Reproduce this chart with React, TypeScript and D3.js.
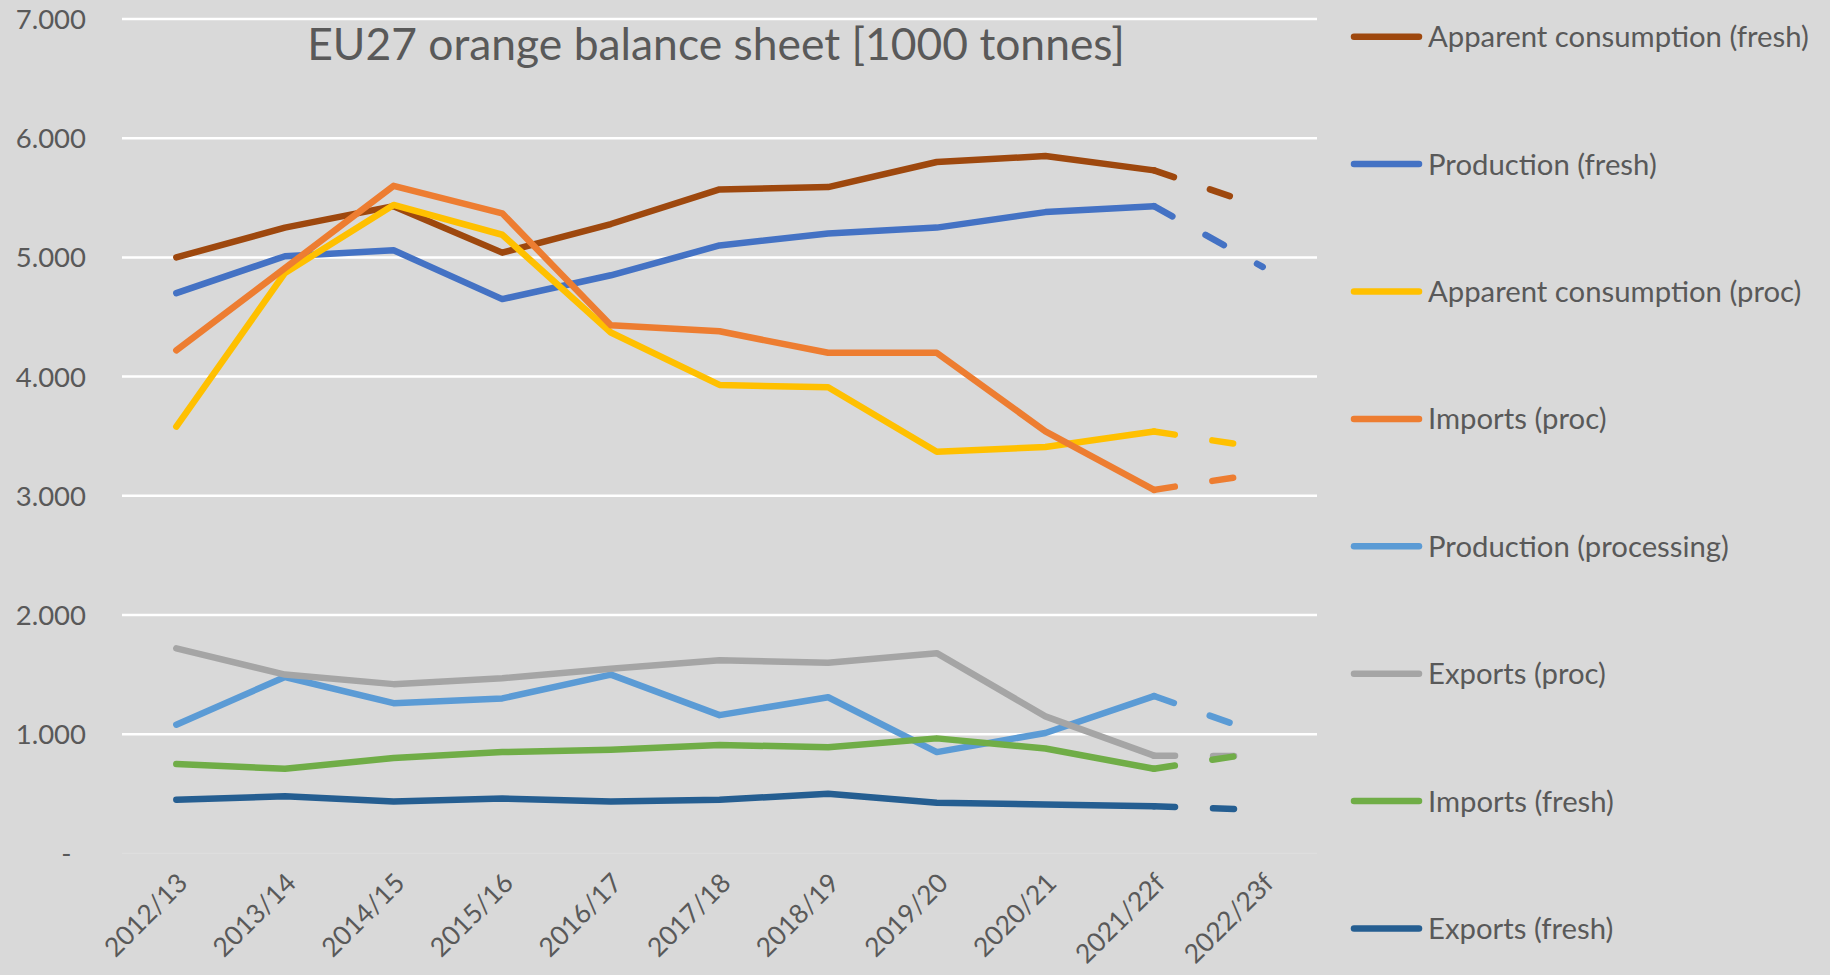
import React from 'react';
import * as d3 from 'd3';

const categories = ['2012/13', '2013/14', '2014/15', '2015/16', '2016/17', '2017/18', '2018/19', '2019/20', '2020/21', '2021/22f', '2022/23f'];

const appConsFresh = [5000, 5250, 5430, 5040, 5280, 5570, 5590, 5800, 5850, 5730, 5420];
const prodFresh = [4700, 5010, 5060, 4650, 4850, 5100, 5200, 5250, 5380, 5430, 4920];
const appConsProc = [3580, 4870, 5440, 5190, 4370, 3930, 3910, 3370, 3410, 3540, 3400];
const importsProc = [4220, 4910, 5600, 5370, 4430, 4380, 4200, 4200, 3540, 3050, 3190];
const prodProc = [1080, 1480, 1260, 1300, 1500, 1160, 1310, 850, 1010, 1320, 1000];
const exportsProc = [1720, 1500, 1420, 1470, 1550, 1620, 1600, 1680, 1150, 820, 815];
const importsFresh = [750, 710, 800, 850, 870, 910, 890, 965, 880, 710, 850];
const exportsFresh = [450, 480, 435, 460, 435, 450, 500, 425, 410, 395, 365];

const yTicks = [0, 1000, 2000, 3000, 4000, 5000, 6000, 7000];

// drawing order = legend order
const series = [
  { name: 'Apparent consumption (fresh)', values: appConsFresh, color: '#9E480E' },
  { name: 'Production (fresh)', values: prodFresh, color: '#4472C4' },
  { name: 'Apparent consumption (proc)', values: appConsProc, color: '#FFC000' },
  { name: 'Imports (proc)', values: importsProc, color: '#ED7D31' },
  { name: 'Production (processing)', values: prodProc, color: '#5B9BD5' },
  { name: 'Exports (proc)', values: exportsProc, color: '#A5A5A5' },
  { name: 'Imports (fresh)', values: importsFresh, color: '#70AD47' },
  { name: 'Exports (fresh)', values: exportsFresh, color: '#255E91' },
];

const W = 1830;
const H = 975;
const plot = { left: 122, right: 1317, top: 19, bottom: 853.4 };
const font = 'Lato, "Open Sans", sans-serif';
const textColor = '#595959';

const locale = d3.formatLocale({ decimal: ',', thousands: '.', grouping: [3], currency: ['', ''] });
const fmt = locale.format(',');

export default function App() {
  const x = d3.scalePoint<string>().domain(categories).range([plot.left, plot.right]).padding(0.5);
  const y = d3.scaleLinear().domain([0, 7000]).range([plot.bottom, plot.top]);

  const line = d3
    .line<{ c: string; v: number }>()
    .x((d) => x(d.c) as number)
    .y((d) => y(d.v));

  const lw = 6.5;

  return (
    <svg width={W} height={H} style={{ position: 'absolute', left: 0, top: 0 }} fontFamily={font}>
      <rect x={0} y={0} width={W} height={H} fill="#D9D9D9" />

      {/* gridlines */}
      {yTicks.filter((t) => t > 0).map((t) => (
        <line key={t} x1={plot.left} x2={plot.right} y1={y(t)} y2={y(t)} stroke="#FFFFFF" strokeWidth={2.5} />
      ))}
      <line x1={plot.left} x2={plot.right} y1={y(0)} y2={y(0)} stroke="#DFDFDF" strokeWidth={1} />

      {/* y labels */}
      {yTicks.map((t) => (
        <text
          key={t}
          x={t === 0 ? 71.5 : 86}
          y={y(t)}
          dy="0.36em"
          textAnchor="end"
          fontSize={27.5}
          fill={textColor}
        >
          {t === 0 ? '-' : fmt(t)}
        </text>
      ))}

      {/* x labels */}
      {categories.map((c) => (
        <text
          key={c}
          transform={`translate(${(x(c) as number) + 6},${878}) rotate(-45)`}
          dy="0.36em"
          textAnchor="end"
          fontSize={26.5}
          fill={textColor}
        >
          {c}
        </text>
      ))}

      {/* title */}
      <text x={716} y={60} textAnchor="middle" fontSize={44.4} fill={textColor}>
        EU27 orange balance sheet [1000 tonnes]
      </text>

      {/* series */}
      {series.map((s) => {
        const pts = s.values.map((v, i) => ({ c: categories[i], v }));
        const n = pts.length;
        return (
          <g key={s.name} fill="none" stroke={s.color} strokeWidth={lw} strokeLinecap="round" strokeLinejoin="round">
            <path d={line(pts.slice(0, n - 1)) || ''} />
            <path d={line(pts.slice(n - 2)) || ''} strokeDasharray="21,38" />
          </g>
        );
      })}

      {/* legend */}
      {series.map((s, i) => {
        const ly = 36.7 + 127.4 * i;
        return (
          <g key={s.name}>
            <line x1={1354} x2={1419} y1={ly} y2={ly} stroke={s.color} strokeWidth={lw} strokeLinecap="round" />
            <text x={1428} y={ly} dy="0.36em" fontSize={29.3} fill={textColor}>
              {s.name}
            </text>
          </g>
        );
      })}
    </svg>
  );
}
